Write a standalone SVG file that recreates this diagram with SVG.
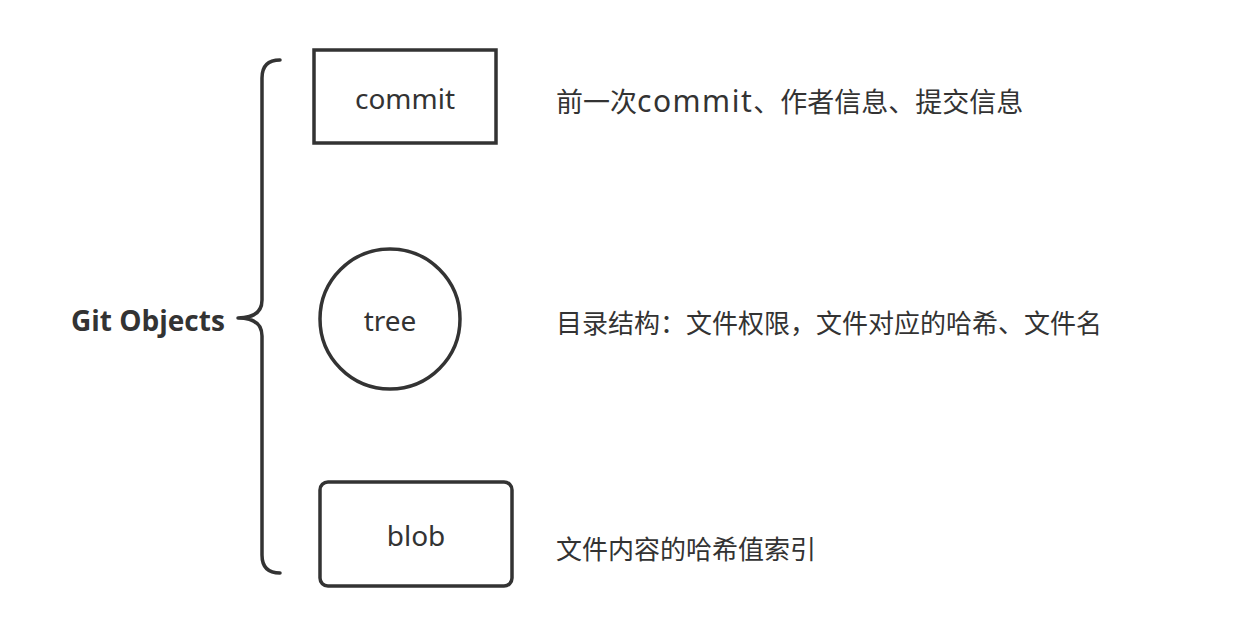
<svg xmlns="http://www.w3.org/2000/svg" width="1234" height="636" viewBox="0 0 1234 636">
<style>
.shape{fill:#fff;stroke:#333;stroke-width:3.5}
.lbl{font-family:"Noto Sans","Noto Sans CJK SC",sans-serif;font-size:28px;fill:#333;text-anchor:middle;dominant-baseline:central}
.desc{font-family:"Noto Sans CJK SC","Noto Sans",sans-serif;font-size:26px;fill:#333;dominant-baseline:central}
.lat{font-family:"Noto Sans",sans-serif;font-size:30px;letter-spacing:1.5px}
.title{font-family:"Open Sans","Noto Sans",sans-serif;font-size:28px;font-weight:bold;fill:#333;dominant-baseline:central}
.brace{fill:none;stroke:#333;stroke-width:3.5;stroke-linecap:round;stroke-linejoin:round}
</style>
<rect width="1234" height="636" fill="#fff"/>
<g id="git-objects">
<text class="title" x="71" y="320">Git Objects</text>
</g>
<g id="connectors">
<path class="brace" d="M280,60 Q262,60 262,78 L262,300 C262,312 254,318 238,318 C254,318 262,324 262,336 L262,555 Q262,573 280,573"/>
</g>
<g id="commit">
<rect class="shape" x="314" y="50" width="182" height="93"/>
<text class="lbl" x="405" y="98">commit</text>
</g>
<g id="tree">
<circle class="shape" cx="390" cy="319" r="70"/>
<text class="lbl" x="390" y="320">tree</text>
</g>
<g id="blob">
<rect class="shape" x="320" y="482" width="192" height="104" rx="8"/>
<text class="lbl" x="416" y="535">blob</text>
</g>
<g id="commit-desc">
<text class="desc" x="556" y="100" style="font-size:27px">前一次<tspan class="lat">commit</tspan>、作者信息、提交信息</text>
</g>
<g id="tree-desc">
<text class="desc" x="556" y="321">目录结构：文件权限，文件对应的哈希、文件名</text>
</g>
<g id="blob-desc">
<text class="desc" x="556" y="547">文件内容的哈希值索引</text>
</g>
</svg>
